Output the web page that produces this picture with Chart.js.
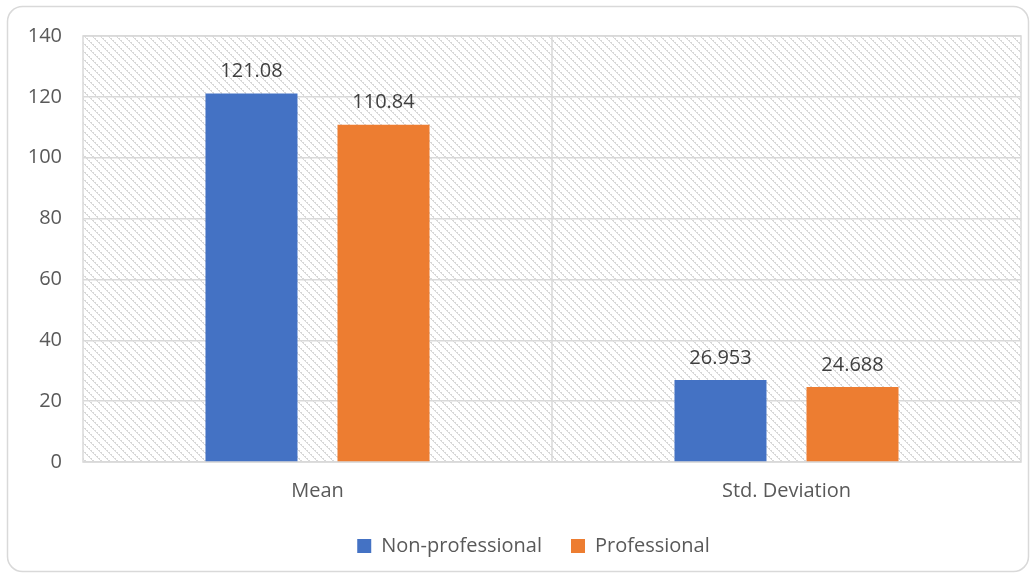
<!DOCTYPE html>
<html><head><meta charset="utf-8">
<script src="https://cdn.jsdelivr.net/npm/chart.js@4.4.0/dist/chart.umd.min.js"></script>
<style>html,body{margin:0;padding:0;background:#fff}canvas{display:block}</style>
</head><body>
<canvas id="c" width="1036" height="578"></canvas>
<script>
const categories = ["Mean", "Std. Deviation"];
const nonProfessional = [121.08, 26.953];
const professional = [110.84, 24.688];
const seriesNames = ["Non-professional", "Professional"];
const labelTexts = [["121.08", "26.953"], ["110.84", "24.688"]];
const yTicks = [0, 20, 40, 60, 80, 100, 120, 140];

const FONT = "'Open Sans', 'Liberation Sans', sans-serif";

function hatch() {
  const p = document.createElement('canvas');
  p.width = 8; p.height = 8;
  const g = p.getContext('2d');
  g.fillStyle = '#fff'; g.fillRect(0,0,8,8);
  g.fillStyle = '#d8d8d8';
  for (let i = 0; i < 8; i++) {
    g.fillRect(i, i, 1, 1);
    if (i % 2 === 0) g.fillRect((i+1)%8, i, 1, 1);
  }
  return p;
}

const bgPlugin = {
  id: 'bg',
  afterLayout(chart) {
    if (chart.legend) {
      chart.legend.left += 23; chart.legend.right += 23;
      chart.legend.top -= 8; chart.legend.bottom -= 8;
    }
  },
  beforeDraw(chart) {
    const ctx = chart.ctx;
    const a = chart.chartArea;
    ctx.save();
    ctx.strokeStyle = '#d9d9d9';
    ctx.lineWidth = 1.5;
    const x = 7.5, y = 6.5, w = 1021, h = 565, r = 15;
    ctx.beginPath();
    ctx.moveTo(x + r, y);
    ctx.arcTo(x + w, y, x + w, y + h, r);
    ctx.arcTo(x + w, y + h, x, y + h, r);
    ctx.arcTo(x, y + h, x, y, r);
    ctx.arcTo(x, y, x + w, y, r);
    ctx.closePath();
    ctx.stroke();
    ctx.fillStyle = ctx.createPattern(hatch(), 'repeat');
    ctx.fillRect(a.left, a.top, a.right - a.left, a.bottom - a.top);
    ctx.restore();
  },
  beforeDatasetsDraw(chart) {
    const ctx = chart.ctx;
    const a = chart.chartArea;
    ctx.save();
    ctx.strokeStyle = '#d9d9d9';
    ctx.lineWidth = 1.5;
    ctx.strokeRect(a.left, a.top, a.right - a.left, a.bottom - a.top);
    const mid = (a.left + a.right) / 2;
    ctx.beginPath(); ctx.moveTo(mid, a.top); ctx.lineTo(mid, a.bottom); ctx.stroke();
    ctx.restore();
  },
  afterDatasetsDraw(chart) {
    const ctx = chart.ctx;
    ctx.save();
    ctx.font = "20px " + FONT;
    ctx.fillStyle = '#404040';
    ctx.textAlign = 'center';
    ctx.textBaseline = 'bottom';
    chart.data.datasets.forEach((ds, di) => {
      chart.getDatasetMeta(di).data.forEach((bar, i) => {
        ctx.fillText(labelTexts[di][i], bar.x, bar.y - 12);
      });
    });
    ctx.restore();
  }
};

new Chart(document.getElementById('c'), {
  type: 'bar',
  data: {
    labels: categories,
    datasets: [
      { label: seriesNames[0], data: nonProfessional, backgroundColor: '#4472C4' },
      { label: seriesNames[1], data: professional, backgroundColor: '#ED7D31' }
    ]
  },
  options: {
    responsive: false,
    animation: false,
    devicePixelRatio: 1,
    categoryPercentage: 0.563,
    barPercentage: 0.697,
    layout: { padding: { top: 36, right: 15, bottom: 4, left: 0 } },
    plugins: {
      legend: {
        position: 'bottom',
        labels: {
          font: { size: 20, family: FONT },
          color: '#595959',
          boxWidth: 14, boxHeight: 14,
          padding: 29
        }
      },
      tooltip: { enabled: false }
    },
    scales: {
      x: {
        grid: { display: false, drawTicks: false },
        border: { display: false },
        ticks: { font: { size: 20, family: FONT }, color: '#595959', padding: 17 },
        afterFit(s) { s.height = 53; }
      },
      y: {
        min: 0, max: 140,
        afterBuildTicks(s) { s.ticks = yTicks.map(v => ({ value: v })); },
        grid: { color: '#d9d9d9', lineWidth: 1.5, drawTicks: false },
        border: { display: false },
        ticks: { font: { size: 20, family: FONT }, color: '#595959', padding: 21 },
        afterFit(s) { s.width = 83; }
      }
    }
  },
  plugins: [bgPlugin]
});
</script>
</body></html>
